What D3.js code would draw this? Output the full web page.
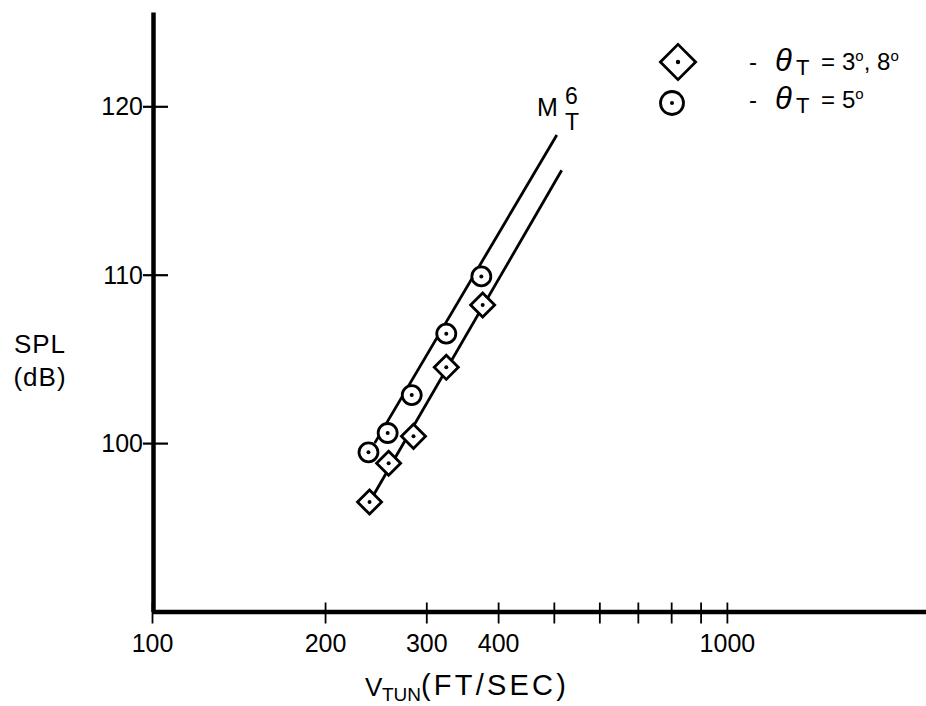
<!DOCTYPE html>
<html lang="en">
<head>
    <meta charset="UTF-8">
    <title>SPL vs V_TUN</title>
    <script src="https://d3js.org/d3.v7.min.js"></script>
    <style>
        body { margin: 0; background: #fff; }
        text { font-family: "Liberation Sans", Arial, sans-serif; fill: #000; }
    </style>
</head>
    <body>
        <script>
            // theta_T = 3, 8 deg (diamonds)
            const diamondV   = [239, 258, 285, 325, 376]
            const diamondSPL = [96.5, 98.8, 100.4, 104.5, 108.2]

            // theta_T = 5 deg (circles)
            const circleV   = [238, 257, 283, 325, 374]
            const circleSPL = [99.45, 100.6, 102.85, 106.5, 109.9]

            // M_T^6 lines, [start, end]
            const upperLineV   = [244, 506]
            const upperLineSPL = [100.0, 118.3]
            const lowerLineV   = [239, 516]
            const lowerLineSPL = [96.5, 116.2]

            const xTicks = [100, 200, 300, 400, 500, 600, 700, 800, 900, 1000]
            const xLabels = [100, 200, 300, 400, 1000]
            const yTicks = [100, 110, 120]

            let width = 926
            let height = 706

            let margin = { top: 12, right: 0, bottom: 94.5, left: 152 }

            xScale = d3.scaleLog()
                .domain([ 100, 2220 ])
                .range([ margin.left, width - margin.right ])

            yScale = d3.scaleLinear()
                .domain([ 90, 125.6 ])
                .range([ height - margin.bottom, margin.top ])

            let svg = d3.select('body').append('svg').attr('width', width).attr('height', height)

            // x axis
            let xAxis = d3.axisBottom(xScale)
                .tickValues(xTicks)
                .tickSize(0)
                .tickFormat(d => xLabels.includes(d) ? d : '')

            let gx = svg.append('g')
                .attr('class', 'x-axis')
                .attr('transform', `translate(0,${ yScale(90) })`)
                .call(xAxis)
            gx.select('.domain').attr('stroke', '#000').attr('stroke-width', 4.5)
            gx.selectAll('.tick line').attr('stroke', '#000').attr('stroke-width', 1.8).attr('y1', -9).attr('y2', 12)
            gx.selectAll('.tick text').attr('y', 40).attr('dy', 0).style('font-size', '25px')

            // y axis
            let yAxis = d3.axisLeft(yScale)
                .tickValues(yTicks)
                .tickSize(0)

            let gy = svg.append('g')
                .attr('class', 'y-axis')
                .attr('transform', `translate(${ xScale(100) + 1 },0)`)
                .call(yAxis)
            gy.select('.domain').attr('stroke', '#000').attr('stroke-width', 4.5)
            gy.selectAll('.tick line').attr('stroke', '#000').attr('stroke-width', 2.2).attr('x1', -10).attr('x2', 15)
            gy.selectAll('.tick text').attr('x', -10).attr('dy', '0.34em').style('font-size', '25px')

            // axis titles
            svg.append('text').attr('x', 40).attr('y', 353).attr('text-anchor', 'middle')
                .style('font-size', '26px').style('letter-spacing', '1px').text('SPL')
            svg.append('text').attr('x', 40).attr('y', 386).attr('text-anchor', 'middle')
                .style('font-size', '26px').style('letter-spacing', '1px').text('(dB)')

            let xt = svg.append('text').attr('y', 696).style('font-size', '26px')
            xt.append('tspan').attr('x', 365).text('V')
            xt.append('tspan').attr('x', 382).attr('dy', 5).style('font-size', '19px').text('TUN')
            xt.append('tspan').attr('x', 421).attr('dy', -6).style('font-size', '29px').style('letter-spacing', '3.2px').text('(FT/SEC)')

            // M_T^6 lines
            const line = d3.line().x(d => xScale(d[0])).y(d => yScale(d[1]))
            const lines = [
                d3.zip(upperLineV, upperLineSPL),
                d3.zip(lowerLineV, lowerLineSPL)
            ]
            svg.append('g')
                .selectAll('path')
                .data(lines)
                .join('path')
                .attr('d', line)
                .attr('fill', 'none')
                .attr('stroke', '#000')
                .attr('stroke-width', 2.8)

            let ml = svg.append('g')
            ml.append('text').attr('x', 537).attr('y', 116).style('font-size', '25px').text('M')
            ml.append('text').attr('x', 565).attr('y', 104).style('font-size', '23px').text('6')
            ml.append('text').attr('x', 565).attr('y', 130).style('font-size', '23px').text('T')

            // markers
            const diamond = d3.symbol(d3.symbolSquare, 290)
            const diamonds = d3.zip(diamondV, diamondSPL)
            const circles = d3.zip(circleV, circleSPL)

            let gd = svg.append('g')
                .selectAll('g')
                .data(diamonds)
                .join('g')
                .attr('transform', d => `translate(${ xScale(d[0]) },${ yScale(d[1]) })`)
            gd.append('path').attr('d', diamond).attr('transform', 'rotate(45)')
                .attr('fill', '#fff').attr('stroke', '#000').attr('stroke-width', 2.8)
            gd.append('circle').attr('r', 2).attr('fill', '#000')

            let gc = svg.append('g')
                .selectAll('g')
                .data(circles)
                .join('g')
                .attr('transform', d => `translate(${ xScale(d[0]) },${ yScale(d[1]) })`)
            gc.append('circle').attr('r', 9.5)
                .attr('fill', '#fff').attr('stroke', '#000').attr('stroke-width', 2.8)
            gc.append('circle').attr('r', 2).attr('fill', '#000')

            // legend
            let lg = svg.append('g').attr('class', 'legend')
            lg.append('path').attr('d', d3.symbol(d3.symbolSquare, 620)).attr('transform', 'translate(678,62) rotate(45)')
                .attr('fill', '#fff').attr('stroke', '#000').attr('stroke-width', 2.8)
            lg.append('circle').attr('cx', 678).attr('cy', 62).attr('r', 2.2).attr('fill', '#000')
            lg.append('circle').attr('cx', 672).attr('cy', 103).attr('r', 11.5)
                .attr('fill', '#fff').attr('stroke', '#000').attr('stroke-width', 2.8)
            lg.append('circle').attr('cx', 672).attr('cy', 103).attr('r', 2).attr('fill', '#000')

            const legendRows = [
                { y: 71, deg: ['3', '8'] },
                { y: 109, deg: ['5'] }
            ]
            legendRows.forEach(r => {
                lg.append('text').attr('x', 749).attr('y', r.y - 1).style('font-size', '24px').text('-')
                let t = lg.append('text').attr('y', r.y).style('font-size', '31px')
                t.append('tspan').attr('x', 775).style('font-style', 'italic').text('θ')
                t.append('tspan').attr('x', 796).attr('dy', 4).style('font-size', '22px').text('T')
                t.append('tspan').attr('x', 821).attr('dy', -5).style('font-size', '24px').text('=')
                r.deg.forEach((v, i) => {
                    if (i > 0) {
                        t.append('tspan').attr('dy', 9).style('font-size', '24px').text(',  ')
                    }
                    let s = t.append('tspan').attr('dy', 0).style('font-size', '24px').text(v)
                    if (i === 0) s.attr('x', 842)
                    t.append('tspan').attr('dy', -9).style('font-size', '15px').text('o')
                })
            })
        </script>
    </body>
</html>
